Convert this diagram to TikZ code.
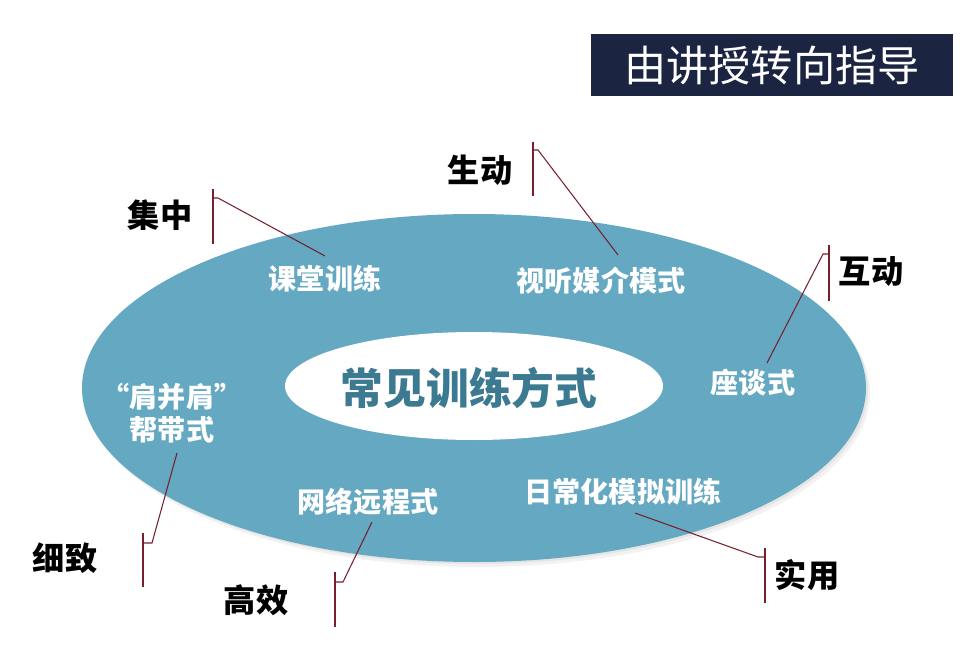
\documentclass[tikz,border=0pt]{standalone}
\usepackage{fontspec}
\newfontfamily\cjk{Noto Sans CJK SC}
\usepackage{xcolor}
\usetikzlibrary{positioning}
\definecolor{ringblue}{RGB}{100,168,194}
\definecolor{coretext}{RGB}{60,122,146}
\definecolor{navy}{RGB}{27,36,64}
\definecolor{leadred}{RGB}{118,32,46}

\begin{document}
\begin{tikzpicture}[x=0.03cm,y=-0.03cm,
   titlebox/.style={fill=navy,text=white,minimum width=10.86cm,minimum height=1.86cm,
                    inner sep=0pt,font=\cjk\fontsize{36}{40}\selectfont},
   core/.style={text=coretext,font=\cjk\bfseries\fontsize{36.5}{40}\selectfont},
   way/.style={text=white,align=center,font=\cjk\bfseries\fontsize{24}{28}\selectfont},
   trait/.style={text=black,font=\cjk\bfseries\fontsize{27.5}{30}\selectfont},
   ln/.style={draw=leadred,line width=0.9pt}
]
\useasboundingbox (0,0) rectangle (980,651);

% Title
\node[titlebox] (title) at (772,65) {由讲授转向指导};

% Ring and core
\fill[black!5] (478,393) ellipse [x radius=392,y radius=174];
\fill[black!10] (476,390) ellipse [x radius=392,y radius=174];
\fill[ringblue] (474,388) ellipse [x radius=392,y radius=174];
\fill[white] (474,386) ellipse [x radius=189,y radius=54];
\node[core] (core) at (469,388) {常见训练方式};

% Training ways
\node[way] (ktxl) at (325,279) {课堂训练};
\node[way] (stmj) at (601,281) {视听媒介模式};
\node[way] (zts) at (753,383) {座谈式};
\node[way] (rcmn) at (623,492) {日常化模拟训练};
\node[way] (wlyc) at (368,502) {网络远程式};
\node[way] (jbj) at (172,413) {“肩并肩”\\帮带式};

% Traits
\node[trait] (jz) at (160,215) {集中};
\node[trait] (sd) at (480,170) {生动};
\node[trait] (hd) at (871,272) {互动};
\node[trait] (xz) at (65,558) {细致};
\node[trait] (gx) at (256,600) {高效};
\node[trait] (sy) at (807,575) {实用};

% Leader: jz
\coordinate (jz-t) at (213,189);
\coordinate (jz-b) at (213,244);
\coordinate (jz-k) at (213,198);
\coordinate (jz-e) at (218,198);
\coordinate (jz-p) at (325,256);
\draw[ln] (jz-t) -- (jz-b);
\draw[ln] (jz-k) -- (jz-e) -- (jz-p);

% Leader: sd
\coordinate (sd-t) at (533,142);
\coordinate (sd-b) at (533,196);
\coordinate (sd-k) at (533,150);
\coordinate (sd-e) at (538,150);
\coordinate (sd-p) at (618,255);
\draw[ln] (sd-t) -- (sd-b);
\draw[ln] (sd-k) -- (sd-e) -- (sd-p);

% Leader: hd
\coordinate (hd-t) at (829,245);
\coordinate (hd-b) at (829,301);
\coordinate (hd-k) at (829,254);
\coordinate (hd-e) at (823,254);
\coordinate (hd-p) at (767,363);
\draw[ln] (hd-t) -- (hd-b);
\draw[ln] (hd-k) -- (hd-e) -- (hd-p);

% Leader: xz
\coordinate (xz-t) at (143,533);
\coordinate (xz-b) at (143,587);
\coordinate (xz-k) at (143,543);
\coordinate (xz-e) at (152,543);
\coordinate (xz-p) at (177,453);
\draw[ln] (xz-t) -- (xz-b);
\draw[ln] (xz-k) -- (xz-e) -- (xz-p);

% Leader: gx
\coordinate (gx-t) at (335,572);
\coordinate (gx-b) at (335,627);
\coordinate (gx-k) at (335,582);
\coordinate (gx-e) at (343,582);
\coordinate (gx-p) at (372,522);
\draw[ln] (gx-t) -- (gx-b);
\draw[ln] (gx-k) -- (gx-e) -- (gx-p);

% Leader: sy
\coordinate (sy-t) at (765,548);
\coordinate (sy-b) at (765,603);
\coordinate (sy-k) at (765,557);
\coordinate (sy-e) at (758,557);
\coordinate (sy-p) at (635,513);
\draw[ln] (sy-t) -- (sy-b);
\draw[ln] (sy-k) -- (sy-e) -- (sy-p);

\end{tikzpicture}
\end{document}
